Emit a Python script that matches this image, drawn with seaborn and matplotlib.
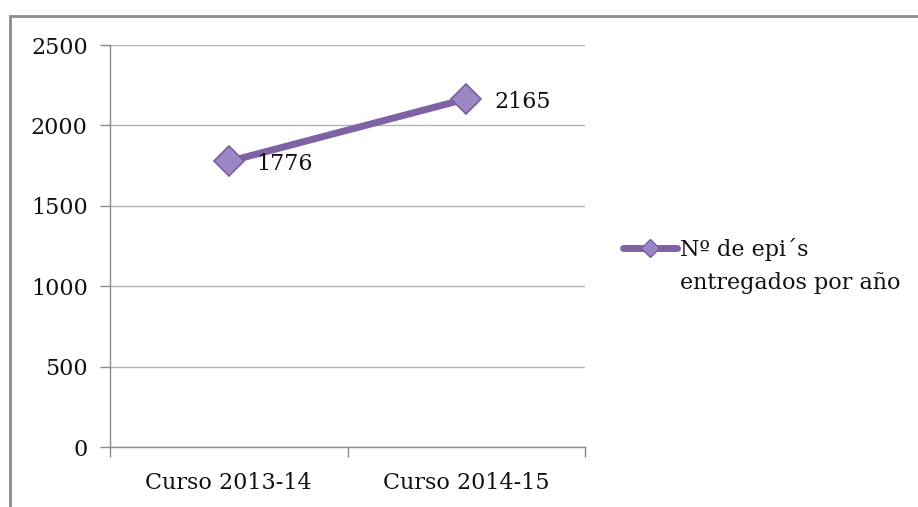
import matplotlib
matplotlib.use("Agg")
import matplotlib.pyplot as plt
from matplotlib.lines import Line2D
from matplotlib.patches import Rectangle
import seaborn as sns
import pandas as pd

# Data
cursos = ["Curso 2013-14", "Curso 2014-15"]
epis = [1776, 2165]
serie = "Nº de epi´s\nentregados por año"
y_ticks = [0, 500, 1000, 1500, 2000, 2500]

df = pd.DataFrame({"curso": cursos, "epis": epis})

sns.set_style("white")
plt.rcParams["font.family"] = ["DejaVu Serif"]
plt.rcParams["text.color"] = "#111111"
plt.rcParams["xtick.labelcolor"] = "#111111"
plt.rcParams["ytick.labelcolor"] = "#111111"

LINE = "#7F62A3"
FACE = "#9D86C6"
EDGE = "#7A5E9E"
GRID = "#B3B3B3"
AXIS = "#8A8A8A"
FS = 16

fig = plt.figure(figsize=(9.18, 5.07), dpi=100)
ax = fig.add_axes([110 / 918, 1 - 447 / 507, (585 - 110) / 918, (447 - 45) / 507])

sns.lineplot(data=df, x="curso", y="epis", ax=ax, sort=False,
             color=LINE, linewidth=5, marker="D", markersize=15,
             markerfacecolor=FACE, markeredgecolor=EDGE, markeredgewidth=1.2)

ax.set_xlim(-0.5, 1.5)
ax.set_ylim(0, 2500)
ax.set_yticks(y_ticks)
ax.set_yticklabels([str(v) for v in y_ticks], fontsize=FS)
ax.set_xticks([0, 1])
ax.set_xticklabels(cursos, fontsize=FS)
ax.set_xticks([-0.5, 0.5, 1.5], minor=True)
ax.set_xlabel("")
ax.set_ylabel("")

ax.grid(axis="y", color=GRID, linewidth=1)
ax.set_axisbelow(True)
for side in ["top", "right"]:
    ax.spines[side].set_visible(False)
for side in ["left", "bottom"]:
    ax.spines[side].set_color(AXIS)
    ax.spines[side].set_linewidth(1)

ax.tick_params(axis="y", which="major", direction="out", length=7, width=1,
               color=AXIS, left=True, pad=9)
ax.tick_params(axis="x", which="major", length=0, pad=18)
ax.tick_params(axis="x", which="minor", direction="out", length=7, width=1,
               color=AXIS, bottom=True)

# Value labels next to each point
for i, v in enumerate(epis):
    ax.annotate(str(v), (i, v), xytext=(20, -2), textcoords="offset points",
                fontsize=FS, va="center", ha="left")

# Legend: first text line sits beside the marker, second line beneath it
lineas = serie.split("\n")
h1 = Line2D([], [], color=LINE, linewidth=5, marker="D", markersize=9,
            markerfacecolor=FACE, markeredgecolor=EDGE)
h2 = Line2D([], [], color="none")
ax.legend([h1, h2], lineas, loc="center left", bbox_to_anchor=(623 / 918, 1 - 266 / 507),
          bbox_transform=fig.transFigure, frameon=False, fontsize=FS,
          handlelength=2.45, handletextpad=0.1, labelspacing=0.5, borderpad=0,
          borderaxespad=0)

# Chart area border
fig.patches.append(Rectangle((10 / 918, -0.05), 1.0, 1 - 16 / 507 + 0.05,
                             transform=fig.transFigure, fill=False,
                             edgecolor="#8C8C8C", linewidth=2))

fig.savefig("out.png", dpi=100)
